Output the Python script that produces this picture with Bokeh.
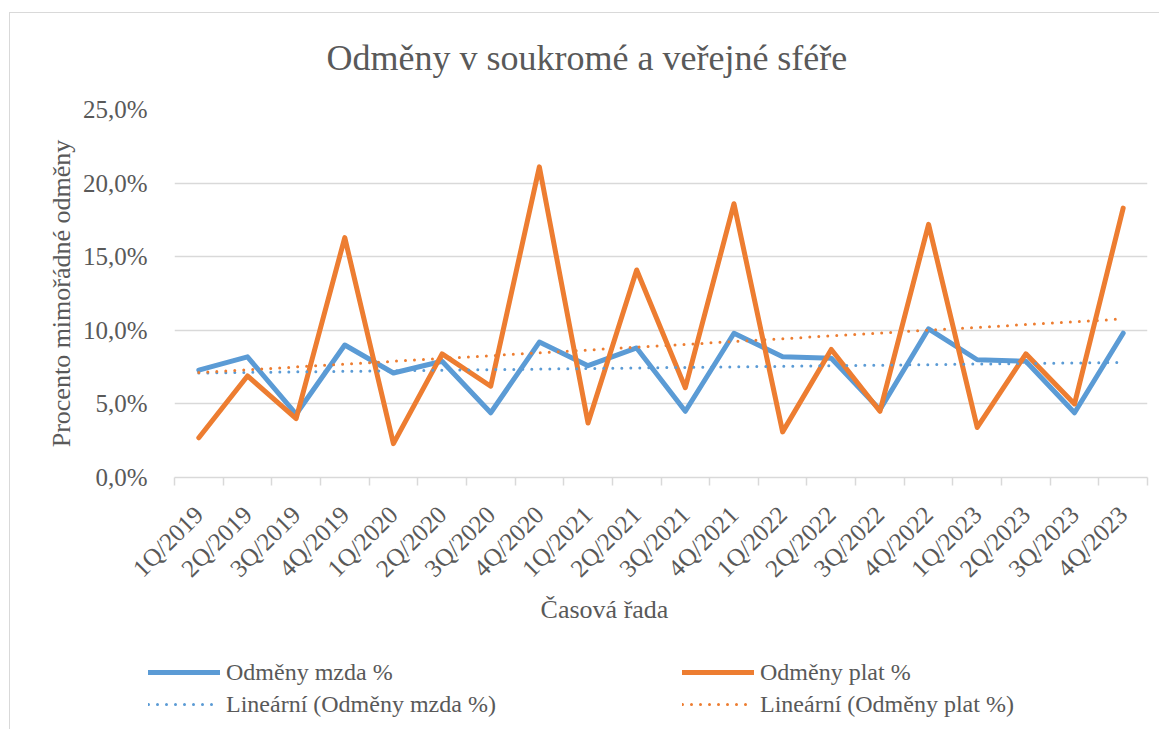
import math
import numpy as np
from bokeh.plotting import figure
from bokeh.layouts import column
from bokeh.models import (Range1d, FixedTicker, CustomJSTickFormatter,
                          Legend, LegendItem, Title, Label)
from bokeh.embed import file_html
from bokeh.resources import INLINE

# ---- data ----
quarters = ["1Q/2019", "2Q/2019", "3Q/2019", "4Q/2019",
            "1Q/2020", "2Q/2020", "3Q/2020", "4Q/2020",
            "1Q/2021", "2Q/2021", "3Q/2021", "4Q/2021",
            "1Q/2022", "2Q/2022", "3Q/2022", "4Q/2022",
            "1Q/2023", "2Q/2023", "3Q/2023", "4Q/2023"]
odmeny_mzda = [7.3, 8.2, 4.3, 9.0, 7.1, 7.9, 4.4, 9.2, 7.6, 8.8,
               4.5, 9.8, 8.2, 8.1, 4.6, 10.1, 8.0, 7.9, 4.4, 9.8]
odmeny_plat = [2.7, 6.9, 4.0, 16.3, 2.3, 8.4, 6.2, 21.1, 3.7, 14.1,
               6.1, 18.6, 3.1, 8.7, 4.5, 17.2, 3.4, 8.4, 5.0, 18.3]
y_ticks = [0, 5, 10, 15, 20, 25]

title_text = "Odměny v soukromé a veřejné sféře"
y_title = "Procento mimořádné odměny"
x_title = "Časová řada"
series_names = ["Odměny mzda %", "Odměny plat %",
                "Lineární (Odměny mzda %)", "Lineární (Odměny plat %)"]

BLUE = "#5B9BD5"
ORANGE = "#ED7D31"
GRID = "#D9D9D9"
TXT = "#595959"
FONT = "Liberation Serif"

n = len(quarters)
idx = np.arange(n)
xc = idx + 0.5

# linear trends (least squares over the series)
bm, bb = np.polyfit(idx, odmeny_mzda, 1)
om, ob = np.polyfit(idx, odmeny_plat, 1)
trend_x = [xc[0], xc[-1]]
trend_mzda = [bb, bm * (n - 1) + bb]
trend_plat = [ob, om * (n - 1) + ob]

W = 1149
H1, H2 = 581, 135
p = figure(width=W, height=H1, output_backend="svg", toolbar_location=None,
           x_range=Range1d(0, n), y_range=Range1d(0, 25),
           min_border_left=164, min_border_right=12, min_border_top=96, min_border_bottom=117)
p.outline_line_color = None
p.background_fill_color = "white"
p.border_fill_color = "white"

# title (left aligned + offset so that it is centred on the whole chart)
p.title.text = title_text
p.title.align = "left"
p.title.offset = 152
p.title.text_font = FONT
p.title.text_font_size = "36px"
p.title.text_font_style = "normal"
p.title.text_color = TXT
top_spacer = Title(text=" ", text_font_size="13px")
p.above = [top_spacer] + list(p.above)

r1 = p.line(xc, odmeny_mzda, line_color=BLUE, line_width=5, line_join="round", line_cap="round")
r2 = p.line(xc, odmeny_plat, line_color=ORANGE, line_width=5, line_join="round", line_cap="round")
r3 = p.line(trend_x, trend_mzda, line_color=BLUE, line_width=3, line_dash="0 9", line_cap="round")
r4 = p.line(trend_x, trend_plat, line_color=ORANGE, line_width=3, line_dash="0 9", line_cap="round")

# x axis
xa = p.xaxis[0]
xa.ticker = FixedTicker(ticks=list(xc), minor_ticks=list(range(n + 1)))
xa.formatter = CustomJSTickFormatter(args=dict(labels=quarters),
                                     code="return labels[Math.floor(tick)] || '';")
xa.major_label_orientation = math.pi / 4
xa.major_tick_line_color = None
xa.major_tick_out = 0
xa.major_tick_in = 0
xa.minor_tick_line_color = GRID
xa.minor_tick_line_width = 1.5
xa.minor_tick_out = 8
xa.minor_tick_in = 0
xa.axis_line_color = GRID
xa.axis_line_width = 1.5
xa.major_label_text_font = FONT
xa.major_label_text_font_size = "25px"
xa.major_label_text_color = TXT
xa.major_label_standoff = 25

# y axis
ya = p.yaxis[0]
ya.ticker = FixedTicker(ticks=y_ticks)
ya.formatter = CustomJSTickFormatter(code="return tick.toFixed(1).replace('.', ',') + '%';")
ya.axis_line_color = None
ya.major_tick_line_color = None
ya.major_tick_out = 0
ya.minor_tick_line_color = None
ya.major_label_text_font = FONT
ya.major_label_text_font_size = "25px"
ya.major_label_text_color = TXT
ya.major_label_standoff = 27
ya.axis_label = y_title
ya.axis_label_text_font = FONT
ya.axis_label_text_font_size = "26px"
ya.axis_label_text_font_style = "normal"
ya.axis_label_text_color = TXT
ya.axis_label_standoff = 4

p.xgrid.grid_line_color = None
p.ygrid.grid_line_color = GRID
p.ygrid.grid_line_width = 1.5
p.ygrid.ticker = FixedTicker(ticks=y_ticks)

# ---- lower strip: x-axis title and legend ----
p2 = figure(width=W, height=H2, output_backend="svg", toolbar_location=None,
            x_range=Range1d(0, 1), y_range=Range1d(0, 1),
            x_axis_type=None, y_axis_type=None, min_border=0)
p2.outline_line_color = None
p2.grid.visible = False
p2.background_fill_color = "white"
p2.border_fill_color = "white"

base = 0
if "frame_align" in p2.properties():
    p2.frame_align = False
else:
    base = 164  # frame of the strip gets aligned with the main frame

p2.add_layout(Label(x=594 - base, y=120, x_units="screen", y_units="screen", text=x_title,
                    text_align="center", text_baseline="middle", text_font=FONT,
                    text_font_size="26px", text_color=TXT))

nan = [np.nan]
l1 = p2.line(x=nan, y=nan, line_color=BLUE, line_width=5, line_cap="round")
l2 = p2.line(x=nan, y=nan, line_color=ORANGE, line_width=5, line_cap="round")
l3 = p2.line(x=nan, y=nan, line_color=BLUE, line_width=3, line_dash="0 9", line_cap="round")
l4 = p2.line(x=nan, y=nan, line_color=ORANGE, line_width=3, line_dash="0 9", line_cap="round")

leg_x = max(0, 138 - base)
leg_lw = (672 - base) - leg_x - 78
legend = Legend(items=[LegendItem(label=series_names[0], renderers=[l1]),
                       LegendItem(label=series_names[1], renderers=[l2]),
                       LegendItem(label=series_names[2], renderers=[l3]),
                       LegendItem(label=series_names[3], renderers=[l4])],
                orientation="horizontal", ncols=2,
                location=(leg_x, 9),
                glyph_width=72, glyph_height=32, label_height=32, label_width=leg_lw,
                label_standoff=6, spacing=0, padding=0, margin=0,
                border_line_color=None, background_fill_alpha=0,
                label_text_font=FONT, label_text_font_size="24px", label_text_color=TXT)
p2.add_layout(legend, "center")

layout = column(p, p2, spacing=0)
layout.styles = {"border-top": "1px solid #D9D9D9", "border-left": "1px solid #D9D9D9",
                 "margin-top": "12px", "margin-left": "9px"}

open("out.html", "w").write(file_html(layout, INLINE))
